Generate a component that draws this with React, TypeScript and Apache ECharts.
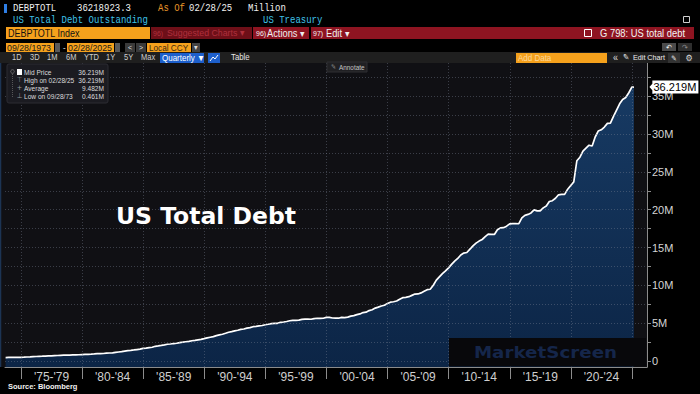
import React, { useEffect, useRef } from "react";
import * as echarts from "echarts";

// Quarterly US total public debt outstanding (in "M" units as shown on the chart), Sep 1973 .. Feb 2025
const debt: number[] = [
  0.461, 0.470, // 1973 Q3-Q4
  0.474, 0.475, 0.481, 0.492, // 1974
  0.509, 0.533, 0.553, 0.577, // 1975
  0.600, 0.620, 0.635, 0.653, // 1976
  0.680, 0.686, 0.709, 0.729, // 1977
  0.758, 0.771, 0.780, 0.790, // 1978
  0.811, 0.812, 0.827, 0.846, // 1979
  0.866, 0.883, 0.908, 0.936, // 1980
  0.967, 0.971, 0.998, 1.034, // 1981
  1.064, 1.080, 1.142, 1.197, // 1982
  1.244, 1.319, 1.381, 1.410, // 1983
  1.463, 1.518, 1.573, 1.663, // 1984
  1.710, 1.775, 1.823, 1.946, // 1985
  1.994, 2.059, 2.125, 2.214, // 1986
  2.248, 2.313, 2.350, 2.431, // 1987
  2.487, 2.548, 2.602, 2.684, // 1988
  2.740, 2.799, 2.857, 2.953, // 1989
  3.052, 3.143, 3.233, 3.364, // 1990
  3.466, 3.538, 3.665, 3.801, // 1991
  3.881, 3.984, 4.065, 4.177, // 1992
  4.230, 4.352, 4.411, 4.536, // 1993
  4.576, 4.645, 4.693, 4.800, // 1994
  4.864, 4.951, 4.974, 4.989, // 1995
  5.118, 5.161, 5.225, 5.323, // 1996
  5.380, 5.376, 5.413, 5.503, // 1997
  5.543, 5.548, 5.526, 5.614, // 1998
  5.652, 5.639, 5.656, 5.776, // 1999
  5.773, 5.686, 5.674, 5.662, // 2000
  5.774, 5.727, 5.807, 5.943, // 2001
  6.006, 6.126, 6.228, 6.405, // 2002
  6.460, 6.670, 6.783, 6.998, // 2003
  7.131, 7.274, 7.379, 7.596, // 2004
  7.777, 7.836, 7.933, 8.170, // 2005
  8.371, 8.420, 8.507, 8.680, // 2006
  8.849, 8.867, 9.008, 9.229, // 2007
  9.437, 9.492, 10.025, 10.700, // 2008
  11.127, 11.545, 11.910, 12.311, // 2009
  12.773, 13.202, 13.562, 14.025, // 2010
  14.270, 14.343, 14.790, 15.223, // 2011
  15.582, 15.856, 16.066, 16.433, // 2012
  16.771, 16.738, 16.738, 17.352, // 2013
  17.601, 17.633, 17.824, 18.141, // 2014
  18.152, 18.152, 18.151, 18.922, // 2015
  19.264, 19.382, 19.573, 19.977, // 2016
  19.846, 19.845, 20.245, 20.493, // 2017
  21.089, 21.195, 21.516, 21.974, // 2018
  22.028, 22.023, 22.719, 23.201, // 2019
  23.686, 26.477, 26.945, 27.748, // 2020
  28.133, 28.530, 28.429, 29.617, // 2021
  30.401, 30.568, 30.929, 31.420, // 2022
  31.458, 32.332, 33.167, 34.001, // 2023
  34.587, 34.832, 35.465, 36.218, // 2024
  36.219, // 2025-02
];

// Observation dates: quarter ends from Sep 1973, last one 02/28/2025
const quarterMonths = ["03", "06", "09", "12"];
const dates: string[] = [];
for (let y = 1973; y <= 2024; y++) {
  for (const m of quarterMonths) {
    if (y === 1973 && (m === "03" || m === "06")) continue;
    dates.push(`${y}-${m}-28`);
  }
}
dates.push("2025-02-28");

const bandStartYears = [1975, 1980, 1985, 1990, 1995, 2000, 2005, 2010, 2015, 2020, 2025];
const bandLabels = ["'75-'79", "'80-'84", "'85-'89", "'90-'94", "'95-'99", "'00-'04", "'05-'09", "'10-'14", "'15-'19", "'20-'24"];
const yTickValues = [0, 2.5, 5, 7.5, 10, 12.5, 15, 17.5, 20, 22.5, 25, 27.5, 30, 32.5, 35, 37.5];
const yLabelValues = [0, 5, 10, 15, 20, 25, 30, 35];

const legendRows = [
  ["Mid Price", "36.219M"],
  ["High on 02/28/25", "36.219M"],
  ["Average", "9.482M"],
  ["Low on 09/28/73", "0.461M"],
];

// date string -> fractional year (for a value x-axis)
function toYear(s: string): number {
  const [y, m, d] = s.split("-").map(Number);
  const start = Date.UTC(y, 0, 1);
  const end = Date.UTC(y + 1, 0, 1);
  return y + (Date.UTC(y, m - 1, d) - start) / (end - start);
}

const MONO = "Liberation Mono";
const SANS = "Liberation Sans";
const PANEL = "#101014";

function T(x: number, y: number, text: string, fill: string, size: number, extra: any = {}) {
  const { family = SANS, weight = "normal", align = "left", sy = 1.12, z = 20, sx = 1 } = extra;
  return {
    type: "text",
    x,
    y,
    z,
    scaleY: sy,
    scaleX: sx,
    silent: true,
    style: {
      text,
      fill,
      fontSize: size,
      fontFamily: family,
      fontWeight: weight,
      align,
      textAlign: align,
      verticalAlign: "middle",
      textVerticalAlign: "middle",
    },
  };
}

function R(x: number, y: number, w: number, h: number, fill: string, extra: any = {}) {
  const { z = 15, stroke, r } = extra;
  return {
    type: "rect",
    z,
    silent: true,
    shape: { x, y, width: w, height: h, r: r || 0 },
    style: { fill, stroke: stroke || null, lineWidth: stroke ? 1 : 0 },
  };
}

export default function App() {
  const ref = useRef<HTMLDivElement>(null);

  useEffect(() => {
    if (!ref.current) return;
    const chart = echarts.init(ref.current, undefined, { renderer: "svg" });
    const lastIdx = debt.length - 1;
    const orange = "#f5a11c";
    const red = "#8e1421";

    const graphics: any[] = [
      // left sliver of the chart panel (outside the grid)
      R(0, 63, 5, 304, PANEL, { z: 1 }),
      { type: "line", z: 16, silent: true, shape: { x1: 0.5, y1: 63, x2: 0.5, y2: 367 }, style: { stroke: "#1c3454", lineWidth: 1.5 } },
      // row 1
      R(4, 4, 3, 9, "#2f7fe6"),
      T(13, 8, "DEBPTOTL", "#f0f0f0", 9, { family: MONO }),
      T(77, 8, "36218923.3", "#f0f0f0", 9, { family: MONO }),
      T(158, 8, "As Of", "#e8962a", 9, { family: MONO }),
      T(189, 8, "02/28/25", "#f0f0f0", 9, { family: MONO }),
      T(248, 8, "Million", "#f0f0f0", 9, { family: MONO }),
      R(683.5, 16.5, 6, 6, "none", { stroke: "#cfcfcf" }),
      // row 2
      T(13, 20.5, "US Total Debt Outstanding", "#3fc2e8", 9, { family: MONO }),
      T(263, 20.5, "US Treasury", "#3fc2e8", 9, { family: MONO }),
      // row 3
      R(6, 27, 144, 12, orange),
      T(8, 33, "DEBPTOTL Index", "#111", 9),
      R(151, 27, 101, 12, "#6e0f18"),
      T(153, 33, "96)", "#b0303c", 7),
      T(167, 33, "Suggested Charts ▾", "#b0303c", 8.8),
      R(253, 27, 56, 12, red),
      T(256, 33, "96)", "#f0f0f0", 7),
      T(267, 33, "Actions ▾", "#f0f0f0", 9.3),
      R(311, 27, 383, 12, red),
      T(313, 33, "97)", "#f0f0f0", 7),
      T(326, 33, "Edit ▾", "#f0f0f0", 9.3),
      R(584.5, 29.5, 7, 7, "none", { stroke: "#ffffff", z: 16 }),
      T(600, 33, "G 798: US total debt", "#f4f4f4", 9.4),
      // row 4
      R(6, 43, 48, 9, orange),
      T(7, 47.5, "09/28/1973", "#1a1a1a", 8.8),
      R(55, 43, 5, 9, "#5a5a5a"),
      T(63, 47.5, "-", "#e0e0e0", 8),
      R(67, 43, 47, 9, orange),
      T(68, 47.5, "02/28/2025", "#1a1a1a", 8.8),
      R(115, 43, 5, 9, "#5a5a5a"),
      R(125, 43, 10, 9, "#3a3a3a"),
      T(130, 47.5, "<", "#e0e0e0", 7, { align: "center" }),
      R(136, 43, 10, 9, "#3a3a3a"),
      T(141, 47.5, ">", "#e0e0e0", 7, { align: "center" }),
      R(147, 43, 44, 9, orange),
      T(149, 47.5, "Local CCY", "#3a2a10", 8.2),
      R(192, 43, 8, 9, "#444"),
      T(196, 47.5, "▾", "#ddd", 7, { align: "center" }),
      R(662, 43, 14, 8, "#4a4a4a"),
      T(669, 47, "↶", "#eee", 7, { align: "center", family: "DejaVu Sans" }),
      R(678, 43, 14, 8, "#2e2e2e"),
      T(685, 47, "↷", "#888", 7, { align: "center", family: "DejaVu Sans" }),
      // row 5 toolbar
      R(0, 52, 700, 11, "#1f1f1f", { z: 14 }),
      T(12, 57.5, "1D", "#cfcfcf", 7.5),
      T(30, 57.5, "3D", "#cfcfcf", 7.5),
      T(47, 57.5, "1M", "#cfcfcf", 7.5),
      T(66, 57.5, "6M", "#cfcfcf", 7.5),
      T(84, 57.5, "YTD", "#cfcfcf", 7.5),
      T(106, 57.5, "1Y", "#cfcfcf", 7.5),
      T(124, 57.5, "5Y", "#cfcfcf", 7.5),
      T(141, 57.5, "Max", "#cfcfcf", 7.5),
      R(160, 53, 44, 10, "#1d5fcc"),
      T(162, 58, "Quarterly ▼", "#ffffff", 8),
      R(208, 53, 12, 10, "#1d5fcc"),
      { type: "polyline", z: 20, silent: true, shape: { points: [[210, 61], [213, 57], [215, 59], [218, 55]] }, style: { stroke: "#fff", lineWidth: 1, fill: "none" } },
      T(231, 57.5, "Table", "#e6e6e6", 7.8),
      R(516, 53, 91, 10, orange),
      T(518, 58, "Add Data", "#fcd89c", 8),
      T(613, 57.5, "«", "#dddddd", 9),
      T(623, 57.5, "✎", "#eeeeee", 7.5, { family: "DejaVu Sans" }),
      T(633, 57.5, "Edit Chart", "#eeeeee", 7.2),
      R(668, 53, 12, 10, "#333"),
      T(674, 58, "✎", "#ddd", 7, { align: "center", family: "DejaVu Sans" }),
      T(689, 58, "⚙", "#ddd", 8, { align: "center", family: "DejaVu Sans" }),
      // annotate button
      R(327, 62, 40, 10, "#202023", { stroke: "#2e2e32", z: 16 }),
      T(331, 67, "✎", "#888", 6, { family: "DejaVu Sans" }),
      T(339, 67, "Annotate", "#c4c4c4", 6.4),
      // legend box
      R(7, 64, 101, 39, "rgba(28,28,34,0.96)", { stroke: "#2c2c33", r: 2 }),
      { type: "circle", z: 20, silent: true, shape: { cx: 12.5, cy: 71.5, r: 1.8 }, style: { fill: "none", stroke: "#777", lineWidth: 0.8 } },
      { type: "line", z: 20, silent: true, shape: { x1: 12.5, y1: 74, x2: 12.5, y2: 97 }, style: { stroke: "#666", lineWidth: 0.8, lineDash: [1, 1] } },
      R(17, 69, 5, 6, "#ffffff", { z: 21 }),
      T(19.5, 80, "⊤", "#999", 6.5, { align: "center", family: "DejaVu Sans" }),
      T(19.5, 88, "+", "#999", 6.5, { align: "center", family: "DejaVu Sans" }),
      T(19.5, 96, "⊥", "#999", 6.5, { align: "center", family: "DejaVu Sans" }),
      ...legendRows.flatMap((row, i) => [
        T(24, 72.3 + i * 8, row[0], "#dcdcdc", 6.6),
        T(104, 72.3 + i * 8, row[1], "#dcdcdc", 6.6, { align: "right" }),
      ]),
      // big title
      T(116, 216, "US Total Debt", "#ffffff", 23.5, { family: "DejaVu Sans", weight: "bold", sy: 1 }),
      // MarketScreen watermark box
      R(449, 338, 197, 28.5, "#08080b", { z: 30 }),
      T(545.5, 352.5, "MarketScreen", "#15264a", 15, { family: "DejaVu Sans", weight: "bold", align: "center", sy: 1, sx: 1.22, z: 31 }),
      // source
      T(8, 386, "Source: Bloomberg", "#f2f2f2", 7.5, { weight: "bold", sy: 1.05 }),
    ];

    const gridLineStyle = { color: "rgba(125,132,150,0.4)", width: 1, type: [1, 2] };

    chart.setOption({
      animation: false,
      backgroundColor: "#000000",
      textStyle: { fontFamily: SANS },
      grid: {
        show: true,
        backgroundColor: PANEL,
        borderWidth: 0,
        left: 5,
        right: 53,
        top: 63,
        bottom: 27,
        containLabel: false,
        outerBoundsMode: "none",
      },
      xAxis: {
        type: "value",
        min: 1973.69,
        max: 2026.23,
        axisLine: { show: true, onZero: false, lineStyle: { color: "#8c8c8c", width: 1 } },
        axisTick: {
          show: true,
          length: 12,
          lineStyle: { color: "#8c8c8c", width: 1 },
          customValues: bandStartYears,
        },
        axisLabel: {
          show: true,
          color: "#cfcfcf",
          fontSize: 12,
          margin: 4,
          customValues: bandStartYears.slice(0, bandLabels.length).map((y) => y + 2.5),
          formatter: (v: number) => {
            const idx = bandStartYears.indexOf(Math.round(v - 2.5));
            return idx >= 0 ? bandLabels[idx] : "";
          },
        },
        splitLine: { show: false },
      },
      yAxis: {
        type: "value",
        position: "right",
        min: -0.79,
        max: 39.4,
        axisLine: { show: true, onZero: false, lineStyle: { color: "#8c8c8c", width: 1 } },
        axisTick: {
          show: true,
          length: 4,
          lineStyle: { color: "#8c8c8c" },
          customValues: yTickValues,
        },
        axisLabel: {
          show: true,
          color: "#d4d4d4",
          fontSize: 11,
          margin: 5,
          customValues: yLabelValues,
          formatter: (v: number) => (v === 0 ? "0" : `${v}M`),
        },
        splitLine: { show: false },
      },
      series: [
        {
          type: "line",
          name: "debt",
          z: 2,
          data: dates.map((d, i) => [toYear(d), debt[i]]),
          showSymbol: false,
          symbol: "none",
          lineStyle: { color: "#ffffff", width: 1.7 },
          areaStyle: {
            origin: "start",
            opacity: 1,
            color: new echarts.graphic.LinearGradient(0, 0, 0, 1, [
              { offset: 0, color: "#173a63" },
              { offset: 1, color: "#0c2546" },
            ]),
          },
          markPoint: {
            silent: true,
            symbol: "path://M0 6 L3 3 L3 0 L50 0 L50 12 L3 12 L3 9 Z",
            symbolSize: [49, 13],
            symbolKeepAspect: false,
            symbolOffset: [40, 0],
            itemStyle: { color: "#ffffff" },
            label: {
              show: true,
              position: "inside",
              offset: [1, 0],
              color: "#000000",
              fontSize: 11,
              fontFamily: SANS,
              formatter: () => `${debt[lastIdx].toFixed(3)}M`,
            },
            data: [{ coord: [toYear(dates[lastIdx]), debt[lastIdx]] }],
          },
        },
        {
          // dotted grid, drawn over the area fill as in the reference
          type: "line",
          name: "grid",
          z: 3,
          data: [],
          silent: true,
          markLine: {
            silent: true,
            symbol: "none",
            label: { show: false },
            lineStyle: gridLineStyle,
            emphasis: { disabled: true },
            data: [
              ...yTickValues.map((v) => ({ yAxis: v })),
              ...bandStartYears.map((v) => ({ xAxis: v })),
            ],
          },
        },
      ],
      graphic: { elements: graphics },
    });

    return () => chart.dispose();
  }, []);

  return (
    <div
      ref={ref}
      style={{ position: "fixed", left: 0, top: 0, width: 700, height: 394, background: "#000" }}
    />
  );
}
